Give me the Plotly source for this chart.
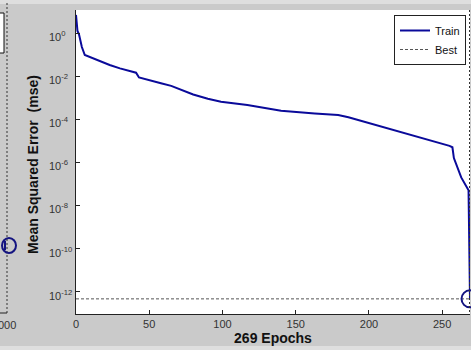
import plotly.graph_objects as go

# ---- data ----
epochs = [0, 1, 2, 3, 4, 6, 10, 14, 23, 30, 37, 41, 43, 50, 58, 65, 71, 80, 90, 99,
          117, 140, 163, 179, 186, 209, 231, 255, 257, 258, 263, 267, 268, 269]
train_mse = [6.92, 1.26, 0.89, 0.40, 0.224, 0.0955, 0.0741, 0.0562, 0.0331, 0.0229,
             0.0174, 0.0145, 0.00871, 0.00631, 0.00468, 0.00355, 0.00245, 0.00141,
             8.9e-4, 6.5e-4, 4.6e-4, 2.5e-4, 1.86e-4, 1.58e-4, 1.23e-4, 4.5e-5,
             1.66e-5, 5.8e-6, 5.0e-6, 1.58e-6, 2.0e-7, 7.4e-8, 5.1e-8, 4.6e-13]
best_epoch = 269
best_mse = 4.6e-13
x_ticks = [0, 50, 100, 150, 200, 250]
y_tick_exps = [0, -2, -4, -6, -8, -10, -12]

W, H = 471, 350
L, R, T, B = 76, 1, 10, 36
PW, PH = W - L - R, H - T - B

def px(x):
    return (x - L) / PW

def py(y):
    return (H - B - y) / PH

BG = "#cacaca"
FONT = "Liberation Sans, Arial, sans-serif"

fig = go.Figure()
fig.add_trace(go.Scatter(x=epochs, y=train_mse, mode="lines", name="Train",
                         line=dict(color="#0a0a9a", width=2)))
fig.add_trace(go.Scatter(x=[0, 269], y=[best_mse, best_mse], mode="lines", name="Best",
                         line=dict(color="#555555", width=1, dash="3px,2px")))
fig.add_trace(go.Scatter(x=[best_epoch], y=[best_mse], mode="markers", showlegend=False,
                         cliponaxis=False,
                         marker=dict(symbol="circle-open", size=17,
                                     line=dict(color="#141480", width=2), color="#141480")))

shapes = [
    dict(type="rect", xref="paper", yref="paper", x0=px(0), x1=px(W), y0=py(0), y1=py(4),
         fillcolor="#dedede", line=dict(width=0), layer="below"),
    dict(type="rect", xref="paper", yref="paper", x0=px(0), x1=px(W), y0=py(346), y1=py(350),
         fillcolor="#dedede", line=dict(width=0), layer="below"),
    dict(type="line", xref="paper", yref="paper", x0=px(469.5), x1=px(469.5), y0=py(10), y1=py(314),
         line=dict(color="#333333", width=1, dash="2px,2px")),
    dict(type="line", xref="paper", yref="paper", x0=px(7), x1=px(7), y0=py(3), y1=py(313),
         line=dict(color="#333333", width=1, dash="2px,2px")),
    dict(type="line", xref="paper", yref="paper", x0=px(0), x1=px(7), y0=py(313), y1=py(313),
         line=dict(color="#222222", width=1)),
    dict(type="rect", xref="paper", yref="paper", x0=px(-5), x1=px(4), y0=py(53), y1=py(13),
         fillcolor="white", line=dict(color="#111111", width=1)),
    dict(type="circle", xref="paper", yref="paper", x0=px(2), x1=px(16), y0=py(253), y1=py(238),
         line=dict(color="#141480", width=2)),
    dict(type="line", xref="paper", yref="paper", x0=px(5), x1=px(5), y0=py(250), y1=py(241),
         line=dict(color="#141480", width=2)),
]

annotations = [
    dict(text="000", xref="paper", yref="paper", x=px(18), y=py(325), xanchor="right",
         yanchor="middle", showarrow=False, font=dict(family=FONT, size=11, color="#333333")),
]
# y tick labels, left-aligned like the MATLAB original, placed through the y axis scale
for e in y_tick_exps:
    annotations.append(dict(
        text="10<sup>%d</sup>" % e, xref="paper", yref="y", x=px(47), y=e,
        xanchor="left", yanchor="middle", yshift=-3, showarrow=False,
        font=dict(family=FONT, size=11, color="#333333")))

fig.update_layout(
    width=W, height=H,
    margin=dict(l=L, r=R, t=T, b=B, pad=0, autoexpand=False),
    paper_bgcolor=BG, plot_bgcolor="white",
    font=dict(family=FONT, size=11, color="#333333"),
    showlegend=True,
    legend=dict(x=px(466), y=py(15), xanchor="right", yanchor="top",
                bgcolor="white", bordercolor="#222222", borderwidth=1,
                font=dict(family=FONT, size=11, color="#111111"),
                itemwidth=30, tracegroupgap=0),
    xaxis=dict(range=[0, 269], tickvals=x_ticks, ticks="inside", ticklen=4,
               tickcolor="#222222", showgrid=False, zeroline=False,
               showline=True, linecolor="#222222", linewidth=1, mirror=False,
               tickfont=dict(size=11, color="#333333"),
               title=dict(text="<b>269 Epochs</b>", standoff=0,
                          font=dict(size=14, color="#111111"))),
    yaxis=dict(type="log", range=[-13.04, 1.07], tickvals=[10.0 ** e for e in y_tick_exps],
               showticklabels=False,
               ticks="inside", ticklen=4, tickcolor="#222222", showgrid=False, zeroline=False,
               showline=True, linecolor="#222222", linewidth=1),
    shapes=shapes, annotations=annotations,
)
fig.add_annotation(text="<b>Mean Squared Error  (mse)</b>", xref="paper", yref="paper",
                   x=px(33), y=py(165), textangle=-90, xanchor="center", yanchor="middle",
                   showarrow=False, font=dict(family=FONT, size=14, color="#111111"))

fig.write_html("out.html", config={"displayModeBar": False},
               post_script="document.body.style.margin='0';document.body.style.padding='0';document.body.style.overflow='hidden';")
